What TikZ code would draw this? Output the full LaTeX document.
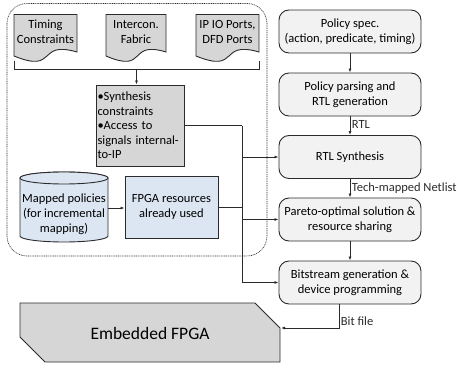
\documentclass[tikz,border=0pt]{standalone}
\usepackage{fontspec}
\setmainfont{Carlito}
\usetikzlibrary{arrows.meta,calc}
\definecolor{edge}{HTML}{2B2B2B}
\definecolor{docgray}{HTML}{D6D6D6}
\definecolor{boxgray}{HTML}{F2F2F2}
\definecolor{lblue}{HTML}{DCE6F2}
\tikzset{
  arr/.style={-{Latex[length=4pt,width=3pt]}, edge, line width=0.8pt},
  ln/.style={edge, line width=0.8pt},
  txt/.style={font=\fontsize{12.5}{14.8}\selectfont},
  flowbox/.style={draw=edge, line width=0.9pt, fill=boxgray, rounded corners=10pt,
    minimum width=142pt, minimum height=43pt, align=center, inner sep=1pt, txt},
  doctext/.style={align=center, inner sep=0pt, txt},
  bluebox/.style={draw=edge, line width=0.9pt, fill=lblue, minimum width=93pt, minimum height=62pt,
    align=center, inner sep=1pt, txt},
  lbl/.style={inner sep=1.5pt, txt, anchor=west},
}
\newcommand{\docshape}[2]{% x0, x1
  \draw[draw=edge, line width=0.9pt, fill=docgray]
    (#1,14.5) -- (#2,14.5) -- (#2,52)
    .. controls ($(#1,40)!0.35!(#2,40)$) and ($(#1,74)!0.7!(#2,74)$) .. (#1,56) -- cycle;}
\begin{document}
\begin{tikzpicture}[x=1pt,y=-1pt]
\useasboundingbox (0,0) rectangle (459,367);
% dotted region
\draw[edge, line width=0.6pt, dash pattern=on 1pt off 0.8pt, rounded corners=20pt] (7,3.5) rectangle (267,256);
% documents
\docshape{14}{77}
\docshape{106}{166}
\docshape{196}{259}
\node[doctext] (tc) at (45.5,32) {Timing\\Constraints};
\node[doctext] (ic) at (136,32) {Intercon.\\Fabric};
\node[doctext] (ip) at (227.5,32) {IP IO Ports,\\DFD Ports};
% bracket
\coordinate (brL) at (14,69);
\coordinate (brR) at (259,69);
\coordinate (brM) at (136.5,69);
\draw[ln] (14,61) -- (brL) -- (brR) -- (259,61);
% synthesis box
\node[draw=edge, line width=0.9pt, fill=docgray, minimum width=88pt, minimum height=81pt, text width=85pt,
  align=left, inner sep=1.5pt, font=\fontsize{12.5}{14.5}\selectfont] (syn) at (140,125.5)
  {•Synthesis\\constraints\\•Access to\\signals internal-\\to-IP};
\draw[arr] (brM) -- (brM |- syn.north);
% cylinder
\draw[draw=edge, line width=0.9pt, fill=lblue] (20,178) -- (20,236) arc[start angle=180, end angle=360, x radius=44, y radius=-6] -- (108,178) arc[start angle=0, end angle=180, x radius=44, y radius=-6] -- cycle;
\draw[draw=edge, line width=0.9pt, fill=lblue] (64,178) ellipse[x radius=44, y radius=6];
\node[align=center, inner sep=0pt, txt] (mp) at (64,214) {Mapped policies\\(for incremental\\mapping)};
\coordinate (mpE) at (108,208);
\node[bluebox] (fr) at (171.5,207) {FPGA resources\\already used};
\draw[arr] (mpE) -- (mpE -| fr.west);
% right column
\node[flowbox] (spec) at (350,31.5) {Policy spec.\\(action, predicate, timing)};
\node[flowbox] (parse) at (350,94.5) {Policy parsing and\\RTL generation};
\node[flowbox] (rtl) at (350,157) {RTL Synthesis};
\node[flowbox] (par) at (350,219.5) {Pareto-optimal solution \&\\resource sharing};
\node[flowbox] (bit) at (350,282.5) {Bitstream generation \&\\device programming};
\draw[arr] (spec) -- (parse);
\draw[arr] (parse) -- node[lbl, pos=0.45] {RTL} (rtl);
\draw[arr] (rtl) -- node[lbl, pos=0.5] {Tech-mapped Netlist} (par);
\draw[arr] (par) -- (bit);
% bus
\coordinate (bus) at (242,125.5);
\draw[ln] (syn.east) -- (bus);
\draw[arr] (bus) -- (bus |- bit.west) -- (bit.west);
\draw[ln] (fr.east) -- (fr.east -| bus);
\draw[arr] (bus |- rtl.west) -- (rtl.west);
\draw[arr] (bus |- par.west) -- (par.west);
% embedded FPGA
\draw[draw=edge, line width=0.9pt, fill=docgray] (20,303) -- (255,303) -- (280,328) -- (280,362) -- (45,362) -- (20,337) -- cycle;
\node[font=\fontsize{17.5}{20}\selectfont, inner sep=0pt] (fpga) at (150,333) {Embedded FPGA};
\coordinate (fpgaR) at (281,328);
\coordinate (bitOut) at (339,304);
\draw[arr] (bitOut) |- node[lbl, pos=0.36] {Bit file} (fpgaR);
\end{tikzpicture}
\end{document}
